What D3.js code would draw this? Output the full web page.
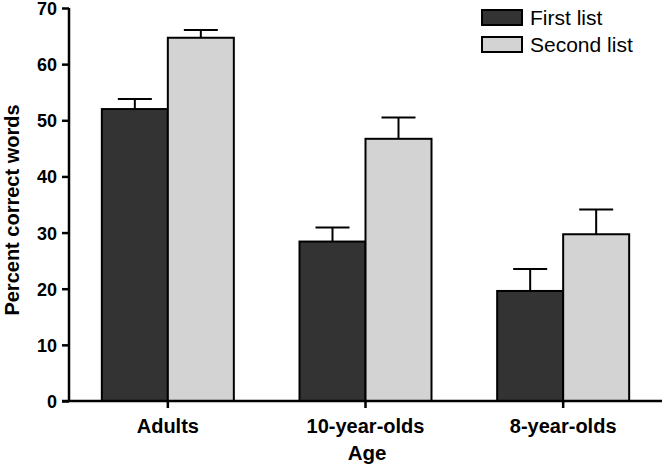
<!DOCTYPE html>
<html><head><meta charset="utf-8">
<script src="https://cdn.jsdelivr.net/npm/d3@7"></script>
<style>body{margin:0;background:#fff}svg{display:block}text{font-family:"Liberation Sans",Arial,sans-serif}</style>
</head><body><svg id="c" width="664" height="469"></svg>
<script>
const categories = ["Adults", "10-year-olds", "8-year-olds"];
const seriesNames = ["First list", "Second list"];
const firstList = [52.0, 28.4, 19.6];
const secondList = [64.7, 46.7, 29.7];
const firstErr = [1.8, 2.5, 3.9];
const secondErr = [1.4, 3.8, 4.4];
const yTicks = [0, 10, 20, 30, 40, 50, 60, 70];
const colors = ["#333333", "#d3d3d3"];

(function () {
const svg = d3.select("#c");
const mL = 69, mR = 662, mT = 8, mB = 401;
const x = d3.scaleBand().domain(categories).range([mL, mR]).paddingInner(0).paddingOuter(0);
const x1 = d3.scaleBand().domain(seriesNames).range([0, 132]);
const y = d3.scaleLinear().domain([0, 70]).range([mB, mT]);

const data = categories.map((c, i) => ({c, vals: [firstList[i], secondList[i]], errs: [firstErr[i], secondErr[i]]}));

const groups = svg.selectAll("g.grp").data(data).join("g").attr("class", "grp")
  .attr("transform", d => `translate(${x(d.c) + x.bandwidth()/2 - 66},0)`);

groups.each(function(d) {
  const g = d3.select(this);
  seriesNames.forEach((s, j) => {
    const cx = x1(s) + x1.bandwidth()/2;
    const yt = y(d.vals[j] + d.errs[j]);
    g.append("line").attr("x1", cx).attr("x2", cx).attr("y1", y(d.vals[j])).attr("y2", yt).attr("stroke", "#000").attr("stroke-width", 2);
    g.append("line").attr("x1", cx - 17).attr("x2", cx + 17).attr("y1", yt).attr("y2", yt).attr("stroke", "#000").attr("stroke-width", 2);
  });
  seriesNames.forEach((s, j) => {
    g.append("rect").attr("x", x1(s)).attr("width", x1.bandwidth())
      .attr("y", y(d.vals[j])).attr("height", y(0) - y(d.vals[j]))
      .attr("fill", colors[j]).attr("stroke", "#000").attr("stroke-width", 2);
  });
});

const ya = svg.append("g").attr("transform", `translate(${mL},0)`)
  .call(d3.axisLeft(y).tickValues(yTicks).tickSize(7).tickPadding(5).tickFormat(d3.format("d")));
ya.select(".domain").attr("stroke-width", 2.5).attr("d", `M0,${mT}V${mB}`);
ya.selectAll(".tick line").attr("stroke-width", 2.5);
ya.selectAll(".tick text").attr("font-size", 18).attr("font-weight", "bold").attr("fill", "#000")
  .attr("dy", "0.36em")
  .attr("font-family", "Liberation Sans, Arial, sans-serif");

const xa = svg.append("g").attr("transform", `translate(0,${mB})`)
  .call(d3.axisBottom(x).tickSize(7));
xa.select(".domain").attr("stroke-width", 2.5).attr("d", `M${mL-7},0H${mR}`);
xa.selectAll(".tick line").attr("stroke-width", 2.5);
xa.selectAll(".tick text").attr("font-size", 20).attr("font-weight", "bold").attr("fill", "#000")
  .attr("y", 32).attr("dy", 0)
  .attr("font-family", "Liberation Sans, Arial, sans-serif");

svg.append("text").attr("x", 367).attr("y", 460).attr("text-anchor", "middle")
  .attr("font-size", 20.5).attr("font-weight", "bold").text("Age");
svg.append("text").attr("transform", "translate(19,210) rotate(-90)").attr("text-anchor", "middle")
  .attr("font-size", 20).attr("font-weight", "bold").text("Percent correct words");

const leg = svg.append("g");
seriesNames.forEach((s, j) => {
  leg.append("rect").attr("x", 482).attr("y", 10 + j * 27).attr("width", 40).attr("height", 15)
    .attr("fill", colors[j]).attr("stroke", "#000").attr("stroke-width", 2);
  leg.append("text").attr("x", 530).attr("y", 25 + j * 27).attr("font-size", 21).text(s);
});
})();
</script></body></html>
